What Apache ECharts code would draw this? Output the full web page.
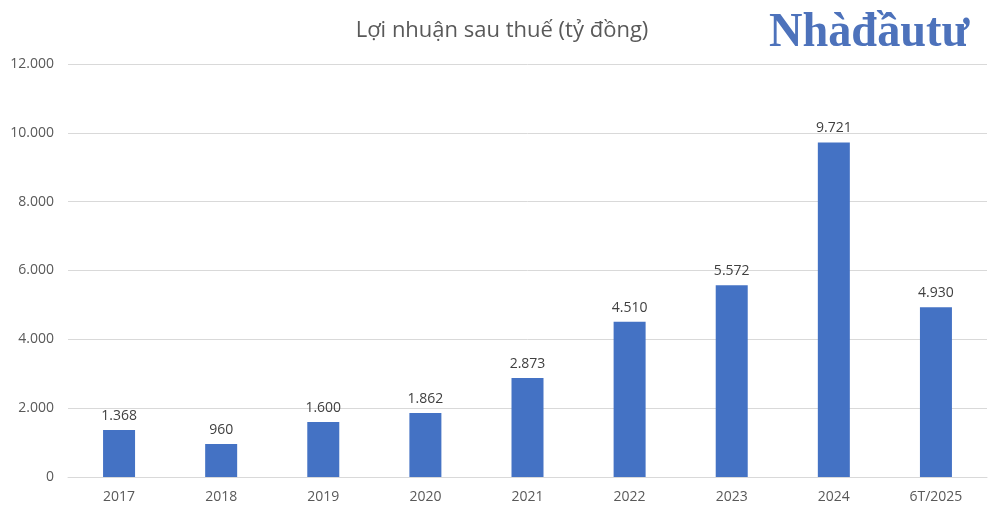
<!DOCTYPE html>
<html><head><meta charset="utf-8">
<script src="https://cdn.jsdelivr.net/npm/echarts@6/dist/echarts.min.js"></script>
<style>html,body{margin:0;padding:0;background:#fff}#c{width:1000px;height:512px}</style>
</head><body><div id="c"></div>
<script>
const categories = ['2017','2018','2019','2020','2021','2022','2023','2024','6T/2025'];
const profit = [1368, 960, 1600, 1862, 2873, 4510, 5572, 9721, 4930];
const yTicks = [0, 2000, 4000, 6000, 8000, 10000, 12000];

const fmt = v => String(v).replace(/\B(?=(\d{3})+(?!\d))/g, '.');
const chart = echarts.init(document.getElementById('c'));
chart.setOption({
  animation: false,
  backgroundColor: '#fff',
  title: {
    text: 'Lợi nhuận sau thuế (tỷ đồng)', left: 497, top: 15, textAlign: 'center',
    textStyle: {fontFamily: 'Open Sans', fontSize: 22, fontWeight: 'normal', color: '#595959'}
  },
  graphic: [{
    type: 'text', left: 769, top: 10, scaleX: 0.965,
    style: {text: 'Nhàđầutư', font: 'bold 48px "Liberation Serif"', fill: '#4d72bb'}
  }],
  grid: {left: 68, right: 13, top: 64, bottom: 35, containLabel: false},
  xAxis: {
    type: 'category', data: categories,
    axisLine: {lineStyle: {color: '#d9d9d9', width: 1}},
    axisTick: {show: false},
    axisLabel: {color: '#595959', fontFamily: 'Open Sans', fontSize: 14, margin: 13}
  },
  yAxis: {
    type: 'value', min: yTicks[0], max: yTicks[yTicks.length-1], interval: 2000,
    axisLine: {show: false}, axisTick: {show: false},
    splitLine: {lineStyle: {color: '#d9d9d9', width: 1}},
    axisLabel: {color: '#595959', fontFamily: 'Open Sans', fontSize: 14, margin: 14, formatter: v => fmt(v)}
  },
  series: [{
    type: 'bar', data: profit, barWidth: 32,
    itemStyle: {color: '#4472c4'},
    label: {show: true, position: 'top', distance: 7, color: '#404040', fontFamily: 'Open Sans', fontSize: 14, formatter: p => fmt(p.value)}
  }]
});
</script></body></html>
